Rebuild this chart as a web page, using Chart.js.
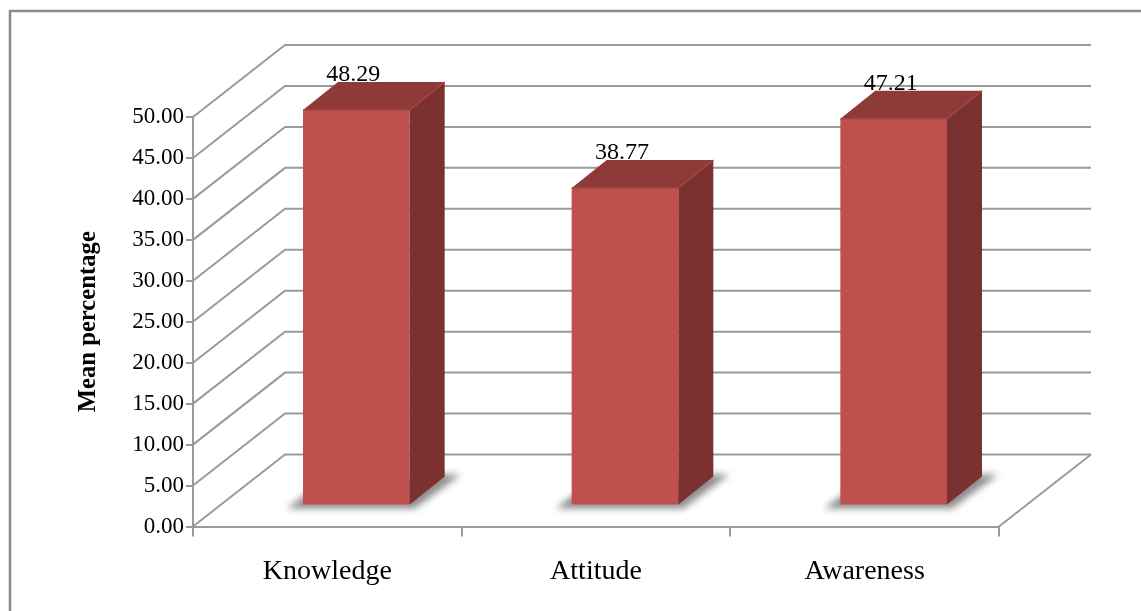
<!DOCTYPE html>
<html>
<head>
<meta charset="utf-8">
<title>Mean percentage</title>
<script src="https://cdn.jsdelivr.net/npm/chart.js@4"></script>
<style>
    html, body { margin: 0; padding: 0; background: #fff; }
    #chartBox { width: 1141px; height: 611px; }
</style>
</head>
<body>
<div id="chartBox"><canvas id="meanChart"></canvas></div>
<script>
var categories = ['Knowledge', 'Attitude', 'Awareness'];
var meanValues = [48.29, 38.77, 47.21];
var valueLabels = ['48.29', '38.77', '47.21'];
var yMin = 0;
var yMax = 50;
var yStep = 5;

// 3D look: how far the back wall sits from the axes, and how the bars are placed
var wallX = 92, wallY = -72;
var barShiftX = 29, barShiftY = -21;
var depthX = 35, depthY = -28;
var gridColor = '#9a9a9a';
var serif = '"Liberation Serif", "Times New Roman", serif';

var fake3d = {
    id: 'fake3d',
    beforeDatasetsDraw: function (chart) {
        var ctx = chart.ctx;
        var xs = chart.scales.x;
        var ys = chart.scales.y;
        var base = ys.getPixelForValue(0);

        // outer frame, only the top and left edges are inside the picture
        ctx.save();
        ctx.strokeStyle = '#8a8a8a';
        ctx.lineWidth = 2.5;
        ctx.beginPath();
        ctx.moveTo(10, chart.height);
        ctx.lineTo(10, 11);
        ctx.lineTo(chart.width, 11);
        ctx.stroke();

        // wall lines, one per tick
        ctx.strokeStyle = gridColor;
        ctx.lineWidth = 2;
        ys.ticks.forEach(function (t) {
            var py = ys.getPixelForValue(t.value);
            ctx.beginPath();
            ctx.moveTo(xs.left, py);
            ctx.lineTo(xs.left + wallX, py + wallY);
            ctx.lineTo(xs.right + wallX, py + wallY);
            ctx.stroke();
        });
        // floor edge on the right
        ctx.beginPath();
        ctx.moveTo(xs.right, base);
        ctx.lineTo(xs.right + wallX, base + wallY);
        ctx.stroke();

        // bar shadows and value labels go under the bars
        var bars = chart.getDatasetMeta(0).data;
        bars.forEach(function (bar, i) {
            var x0 = bar.x - bar.width / 2 + barShiftX;
            var x1 = bar.x + bar.width / 2 + barShiftX;
            var b = base + barShiftY;
            ctx.save();
            ctx.filter = 'blur(3.5px)';
            ctx.fillStyle = '#8c8c8c';
            ctx.beginPath();
            ctx.moveTo(x0 - 16, b + 3);
            ctx.lineTo(x1 + 5, b + 3);
            ctx.lineTo(x1 + depthX + 16, b + depthY - 3);
            ctx.lineTo(x1 + depthX - 5, b + depthY - 3);
            ctx.lineTo(x0 + 4, b - 12);
            ctx.closePath();
            ctx.fill();
            ctx.restore();

            ctx.fillStyle = '#000';
            ctx.font = '24px ' + serif;
            ctx.textAlign = 'center';
            ctx.textBaseline = 'middle';
            ctx.fillText(valueLabels[i], bar.x + barShiftX - 3, bar.y + barShiftY - 35.5);
        });
        ctx.restore();

        // the bars themselves are shifted off the axis, into the 3D floor
        ctx.save();
        ctx.translate(barShiftX, barShiftY);
    },
    afterDatasetsDraw: function (chart) {
        var ctx = chart.ctx;
        ctx.restore();
        ctx.save();
        var bars = chart.getDatasetMeta(0).data;
        bars.forEach(function (bar) {
            var x0 = bar.x - bar.width / 2 + barShiftX;
            var x1 = bar.x + bar.width / 2 + barShiftX;
            var top = bar.y + barShiftY;
            var b = bar.base + barShiftY;

            // top face
            ctx.fillStyle = '#8e3a38';
            ctx.beginPath();
            ctx.moveTo(x0, top);
            ctx.lineTo(x0 + depthX, top + depthY);
            ctx.lineTo(x1 + depthX, top + depthY);
            ctx.lineTo(x1, top);
            ctx.closePath();
            ctx.fill();

            // side face
            ctx.fillStyle = '#7a3130';
            ctx.beginPath();
            ctx.moveTo(x1, top);
            ctx.lineTo(x1 + depthX, top + depthY);
            ctx.lineTo(x1 + depthX, b + depthY);
            ctx.lineTo(x1, b);
            ctx.closePath();
            ctx.fill();

            // soft lit edges
            ctx.strokeStyle = '#a34543';
            ctx.lineWidth = 1.5;
            ctx.beginPath();
            ctx.moveTo(x0, top);
            ctx.lineTo(x1, top);
            ctx.lineTo(x1 + depthX, top + depthY);
            ctx.stroke();
        });
        ctx.restore();
    }
};

var meanCtx = document.getElementById('meanChart').getContext('2d');
var meanChart = new Chart(meanCtx, {
    type: 'bar',
    data: {
        labels: categories,
        datasets: [{
            label: 'Mean percentage',
            data: meanValues,
            backgroundColor: '#c0504d',
            categoryPercentage: 1,
            barPercentage: 0.397,
            clip: false
        }]
    },
    options: {
        responsive: true,
        maintainAspectRatio: false,
        animation: false,
        layout: { padding: { left: 0, right: 142, top: 117, bottom: 0 } },
        plugins: {
            legend: { display: false },
            tooltip: { enabled: false }
        },
        scales: {
            x: {
                offset: true,
                grid: {
                    offset: true,
                    drawOnChartArea: false,
                    color: gridColor,
                    lineWidth: 2,
                    tickLength: 10
                },
                border: { color: gridColor, width: 2 },
                ticks: {
                    color: '#000',
                    padding: 18,
                    maxRotation: 0,
                    font: { family: serif, size: 28 }
                },
                afterFit: function (scale) { scale.height = 84.5; }
            },
            y: {
                min: yMin,
                max: yMax,
                ticks: {
                    stepSize: yStep,
                    color: '#000',
                    padding: 2,
                    font: { family: serif, size: 23 },
                    callback: function (v) { return v.toFixed(2); }
                },
                grid: {
                    drawOnChartArea: false,
                    color: gridColor,
                    lineWidth: 2,
                    tickLength: 7
                },
                border: { color: gridColor, width: 2 },
                title: {
                    display: true,
                    text: 'Mean percentage',
                    color: '#000',
                    font: { family: serif, size: 24.7, weight: 'bold' },
                    padding: { top: 74, bottom: 0 }
                },
                afterFit: function (scale) { scale.width = 193; }
            }
        }
    },
    plugins: [fake3d]
});
</script>
</body>
</html>
